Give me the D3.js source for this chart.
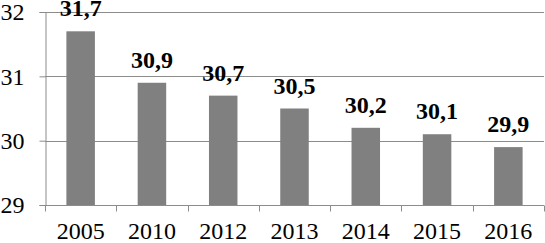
<!DOCTYPE html>
<html><head><meta charset="utf-8">
<script src="https://cdn.jsdelivr.net/npm/d3@7"></script>
<style>body{margin:0;background:#fff}svg{display:block}</style>
</head><body>
<script>
const categories = ["2005","2010","2012","2013","2014","2015","2016"];
const values = [31.7,30.9,30.7,30.5,30.2,30.1,29.9];
const valueLabels = ["31,7","30,9","30,7","30,5","30,2","30,1","29,9"];
const yTicks = [29,30,31,32];

const W=545,H=243;
const FONT="Liberation Serif";
const svg=d3.select("body").append("svg").attr("width",W).attr("height",H);
const x=d3.scaleBand().domain(categories).range([45,544]).paddingInner(0.6).paddingOuter(0.3);
const y=d3.scaleLinear().domain([29,32]).range([205,12]);

// gridlines
svg.append("g").selectAll("line").data(yTicks.slice(1)).join("line")
  .attr("x1",45).attr("x2",544).attr("y1",d=>Math.round(y(d))+0.5).attr("y2",d=>Math.round(y(d))+0.5)
  .attr("stroke","#8c8c8c").attr("stroke-width",1);

// bars
svg.append("g").selectAll("rect").data(values).join("rect")
  .attr("x",(d,i)=>x(categories[i])).attr("width",x.bandwidth())
  .attr("y",d=>y(d)).attr("height",d=>y(29)-y(d)).attr("fill","#808080");

// y axis
const ya=svg.append("g").attr("transform","translate(45.5,0)")
  .call(d3.axisLeft(y).tickValues(yTicks).tickSize(6).tickFormat(d3.format("d")));
ya.attr("font-family",FONT).attr("font-size",24);
ya.select(".domain").attr("stroke","#8c8c8c");
ya.selectAll(".tick line").attr("stroke","#8c8c8c");
ya.selectAll("text").attr("font-family",FONT).attr("font-size",24).attr("fill","#000").attr("x",-21).attr("dy","0.33em");

// x axis
const xb=d3.scaleLinear().domain([0,7]).range([45,544]);
const xa=svg.append("g").attr("transform","translate(0,205.5)");
xa.append("line").attr("x1",45).attr("x2",544).attr("stroke","#8c8c8c");
xa.selectAll("line.t").data(d3.range(8)).join("line").attr("class","t")
  .attr("x1",d=>Math.round(xb(d))+0.5).attr("x2",d=>Math.round(xb(d))+0.5).attr("y1",0).attr("y2",6).attr("stroke","#8c8c8c");
xa.selectAll("text").data(categories).join("text")
  .attr("x",d=>x(d)+x.bandwidth()/2).attr("y",33.5).attr("text-anchor","middle")
  .attr("font-family",FONT).attr("font-size",24).text(d=>d);

// value labels
svg.append("g").selectAll("text").data(values).join("text")
  .attr("x",(d,i)=>x(categories[i])+x.bandwidth()/2).attr("y",d=>y(d)-15)
  .attr("text-anchor","middle").attr("font-family",FONT).attr("font-weight","bold").attr("font-size",24)
  .text((d,i)=>valueLabels[i]);
</script>
</body></html>
